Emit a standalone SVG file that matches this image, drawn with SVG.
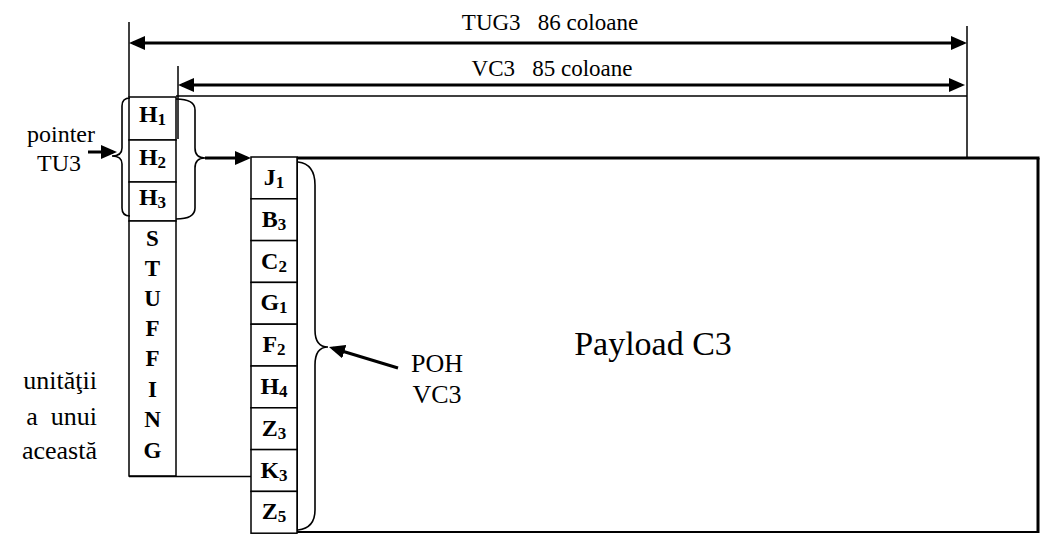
<svg xmlns="http://www.w3.org/2000/svg" width="1040" height="534" viewBox="0 0 1040 534">
<style>
.t{font-family:"Liberation Serif","Times New Roman",serif;fill:#000}
.b{font-family:"Liberation Serif","Times New Roman",serif;font-weight:bold;fill:#000;font-size:24px;text-anchor:middle}
.s{font-size:23px}
.cell{fill:#fff;stroke:#000;stroke-width:1.5}
.thin{stroke:#000;stroke-width:1.5;fill:none}
.thick{stroke:#000;stroke-width:3;fill:none}
.br{stroke:#000;stroke-width:1.6;fill:none}
</style>
<defs>
<marker id="ah" markerWidth="16" markerHeight="14" refX="12" refY="7" orient="auto-start-reverse" markerUnits="userSpaceOnUse"><path d="M0,0 L16,7 L0,14 z" fill="#000"/></marker>
</defs>
<rect width="1040" height="534" fill="#fff"/>

<g id="payload">
<rect x="297" y="158" width="741" height="374" fill="#fff" stroke="#000" stroke-width="2"/>
<line x1="297" y1="158" x2="1039.5" y2="158" class="thick"/>
<line x1="1038" y1="158" x2="1038" y2="533" class="thick"/>
<text class="t" x="653" y="355" font-size="34" text-anchor="middle">Payload C3</text>
</g>

<g id="tu3-pointer">
<rect class="cell" x="129" y="97" width="47" height="43"/>
<rect class="cell" x="129" y="140" width="47" height="42"/>
<rect class="cell" x="129" y="182" width="47" height="39"/>
<text class="b" x="152.5" y="122">H<tspan font-size="17" dy="3">1</tspan></text>
<text class="b" x="152.5" y="165">H<tspan font-size="17" dy="3">2</tspan></text>
<text class="b" x="152.5" y="205">H<tspan font-size="17" dy="3">3</tspan></text>
</g>

<g id="stuffing">
<rect class="cell" x="129" y="221" width="47" height="255"/>
<text class="b s" x="152.5" y="246">S</text>
<text class="b s" x="152.5" y="276">T</text>
<text class="b s" x="152.5" y="306">U</text>
<text class="b s" x="152.5" y="336">F</text>
<text class="b s" x="152.5" y="366">F</text>
<text class="b s" x="152.5" y="397">I</text>
<text class="b s" x="152.5" y="427">N</text>
<text class="b s" x="152.5" y="458">G</text>
</g>

<g id="poh">
<rect class="cell" x="251" y="157" width="46" height="41.8"/>
<rect class="cell" x="251" y="198.8" width="46" height="41.8"/>
<rect class="cell" x="251" y="240.6" width="46" height="41.8"/>
<rect class="cell" x="251" y="282.4" width="46" height="41.8"/>
<rect class="cell" x="251" y="324.2" width="46" height="41.8"/>
<rect class="cell" x="251" y="366" width="46" height="41.8"/>
<rect class="cell" x="251" y="407.8" width="46" height="41.8"/>
<rect class="cell" x="251" y="449.6" width="46" height="41.8"/>
<rect class="cell" x="251" y="491.4" width="46" height="41.8"/>
<text class="b" x="274" y="185">J<tspan font-size="17" dy="3">1</tspan></text>
<text class="b" x="274" y="226.8">B<tspan font-size="17" dy="3">3</tspan></text>
<text class="b" x="274" y="268.6">C<tspan font-size="17" dy="3">2</tspan></text>
<text class="b" x="274" y="310.4">G<tspan font-size="17" dy="3">1</tspan></text>
<text class="b" x="274" y="352.2">F<tspan font-size="17" dy="3">2</tspan></text>
<text class="b" x="274" y="394">H<tspan font-size="17" dy="3">4</tspan></text>
<text class="b" x="274" y="435.8">Z<tspan font-size="17" dy="3">3</tspan></text>
<text class="b" x="274" y="477.6">K<tspan font-size="17" dy="3">3</tspan></text>
<text class="b" x="274" y="519.4">Z<tspan font-size="17" dy="3">5</tspan></text>
</g>

<g id="labels">
<text class="t" x="550" y="30" font-size="23" text-anchor="middle" xml:space="preserve">TUG3   86 coloane</text>
<text class="t" x="552" y="76" font-size="23" text-anchor="middle" xml:space="preserve">VC3   85 coloane</text>
<text class="t" x="61" y="142" font-size="24" text-anchor="middle">pointer</text>
<text class="t" x="59" y="171" font-size="24" text-anchor="middle">TU3</text>
<text class="t" x="437" y="372" font-size="26" text-anchor="middle">POH</text>
<text class="t" x="437" y="403" font-size="26" text-anchor="middle">VC3</text>
<text class="t" x="97" y="389" font-size="26" text-anchor="end">unităţii</text>
<text class="t" x="97" y="425" font-size="26" text-anchor="end" xml:space="preserve">a  unui</text>
<text class="t" x="97" y="459" font-size="26" text-anchor="end">această</text>
</g>

<g id="connectors">
<line class="thin" x1="129" y1="22" x2="129" y2="97"/>
<line class="thin" x1="178" y1="66" x2="178" y2="139"/>
<line class="thin" x1="967" y1="26" x2="967" y2="157"/>
<line class="thin" x1="176" y1="96" x2="967" y2="96"/>
<line class="thin" x1="129" y1="476.5" x2="251" y2="476.5"/>
<line class="thick" x1="133" y1="43" x2="963" y2="43" marker-start="url(#ah)" marker-end="url(#ah)"/>
<line class="thick" x1="182" y1="85" x2="961" y2="85" marker-start="url(#ah)" marker-end="url(#ah)"/>
<path class="br" d="M130,98 Q122,98 122,106 L122,148 Q122,156 112,156 Q122,156 122,164 L122,208 Q122,216 130,216"/>
<path class="br" d="M176,99 Q195,99 195,110 L195,148 Q195,158 205,158 Q195,158 195,168 L195,208 Q195,219 176,219"/>
<path class="br" d="M298,162 Q315,164 315,185 L315,330 Q315,347 328,347 Q315,347 315,365 L315,510 Q315,528 298,530"/>
<line class="thick" x1="205" y1="158" x2="247" y2="158" marker-end="url(#ah)"/>
<line class="thick" x1="88" y1="152" x2="113" y2="152" marker-end="url(#ah)"/>
<line class="thick" x1="398" y1="368" x2="332.8" y2="348.2" marker-end="url(#ah)"/>
</g>
</svg>
